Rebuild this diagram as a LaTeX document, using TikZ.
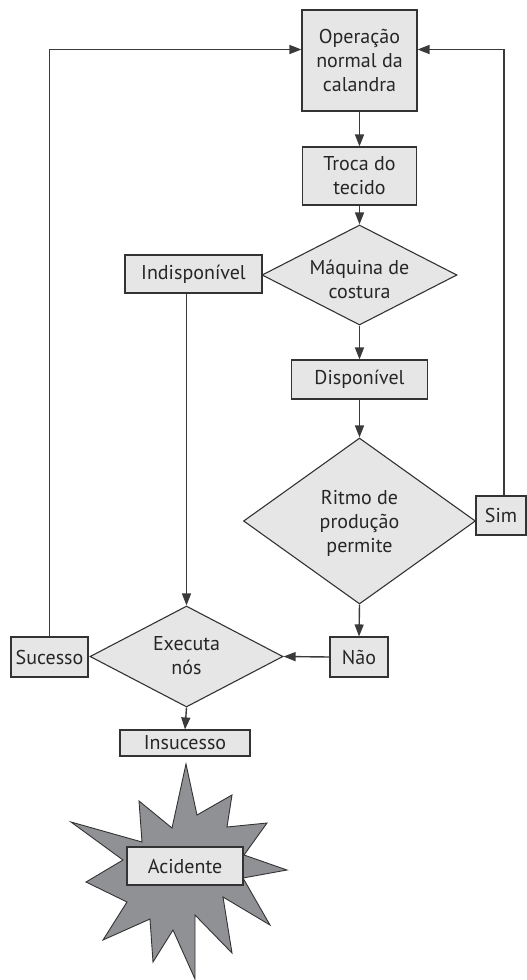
\documentclass[tikz,border=0pt]{standalone}
\usepackage{fontspec}
\setmainfont{PT Sans}
\usetikzlibrary{arrows.meta,shapes.geometric}
\definecolor{boxfill}{HTML}{E6E6E7}
\definecolor{edge}{HTML}{333333}
\definecolor{lineclr}{HTML}{3A3A3A}
\definecolor{starfill}{HTML}{909195}
\begin{document}
\begin{tikzpicture}[x=1pt,y=-1pt,
  every node/.style={font=\fontsize{20}{24}\selectfont, text=black!85},
  box/.style={draw=edge, fill=boxfill, line width=1.1pt, inner sep=0pt, align=center},
  dia/.style={diamond, draw=edge, fill=boxfill, line width=1.1pt, inner sep=0pt},
  lbl/.style={align=center, inner sep=0pt},
  conn/.style={draw=lineclr, line width=1.4pt},
  arr/.style={conn, -{Triangle[length=12pt,width=9pt]}}]
\useasboundingbox (0,0) rectangle (527,980);

% star
\draw[draw=edge, fill=starfill, line width=0.9pt, line join=miter]
  (186,764) -- (197,815) -- (232,795) -- (227,827) -- (267,823) -- (244,855)
  -- (287,870) -- (243,878) -- (270,925) -- (223,897) -- (232,953) -- (195,915)
  -- (195,979) -- (173,930) -- (153,962) -- (150,919) -- (103,940) -- (127,902)
  -- (86,882) -- (123,860) -- (71,822) -- (142,842) -- (139,801) -- (172,828) -- cycle;

% boxes
\node[box, minimum width=115pt, minimum height=101pt] (op) at (359.5,60.5) {Operação\\normal da\\calandra};
\node[box, minimum width=114pt, minimum height=58pt] (troca) at (359.5,176) {Troca do\\tecido};
\node[dia, minimum width=195pt, minimum height=100pt] (maq) at (359.5,275) {};
\node[lbl] (maqt) at (359.5,279) {Máquina de\\costura};
\node[box, minimum width=137pt, minimum height=38pt] (ind) at (193.5,274) {Indisponível};
\node[box, minimum width=136pt, minimum height=39pt] (disp) at (359.5,379.5) {Disponível};
\node[dia, minimum width=232pt, minimum height=166pt] (rit) at (359.5,521) {};
\node[lbl] (ritt) at (359.5,523) {Ritmo de\\produção\\permite};
\node[box, minimum width=50pt, minimum height=39pt] (sim) at (501,515.5) {Sim};
\node[box, minimum width=58pt, minimum height=40pt] (nao) at (359,657) {Não};
\node[dia, minimum width=193pt, minimum height=101pt] (exe) at (186.5,656.5) {};
\node[lbl] (exet) at (186.5,656) {Executa\\nós};
\node[box, minimum width=77pt, minimum height=40pt] (suc) at (49.5,657) {Sucesso};
\node[box, minimum width=130pt, minimum height=26pt] (ins) at (185,743) {Insucesso};
\node[box, minimum width=116pt, minimum height=38pt] (acid) at (185,866) {Acidente};

% connectors
\draw[arr] (op.south) -- (troca.north);
\draw[arr] (troca.south) -- (maq.north);
\draw[arr] (maq.south) -- (disp.north);
\draw[arr] (disp.south) -- (rit.north);
\draw[arr] (rit.south) -- (nao.north);
\draw[arr] (nao.west) -- (exe.east);
\draw[arr] (ind.south -| exe.north) -- (exe.north);
\draw[arr] (exe.south) -- (ins.north);
\draw[arr] (suc.north) |- ([yshift=11pt]op.west);
\draw[arr] ([xshift=3pt]sim.north) |- ([yshift=11pt]op.east);
\end{tikzpicture}
\end{document}
